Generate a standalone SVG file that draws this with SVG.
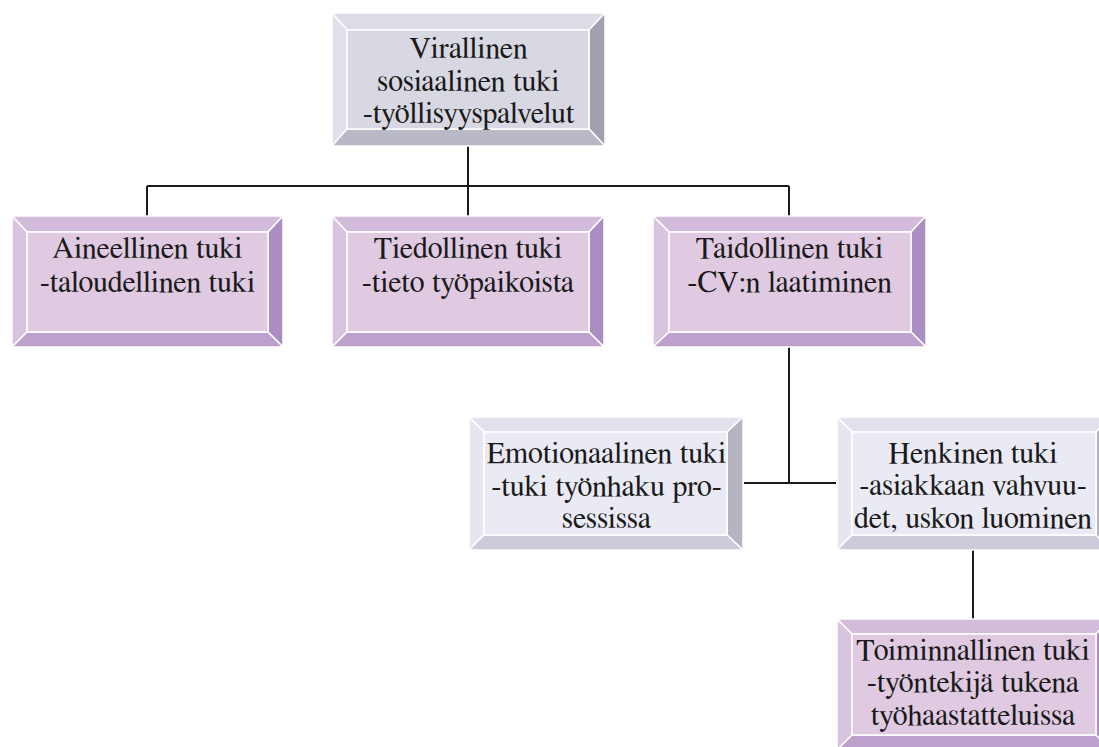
<svg xmlns="http://www.w3.org/2000/svg" width="1099" height="747" viewBox="0 0 1099 747">
<style>
.t{font-family:FreeSerif,"Liberation Serif","Times New Roman",serif;font-size:30px;fill:#1a1a1a;text-anchor:middle}
.b{stroke:#ffffff;stroke-width:1.5;stroke-linejoin:miter}
.g .f{fill:#D8D8E2}.g .tp{fill:#DCDCE6}.g .l{fill:#E0E0EA}.g .r{fill:#A0A0AF}.g .bt{fill:#B8B8C6}
.p .f{fill:#DFCAE2}.p .tp{fill:#D3BBDC}.p .l{fill:#D9C4DF}.p .r{fill:#AA8EC2}.p .bt{fill:#BDA0CB}
.w .f{fill:#EAEAF5}.w .tp{fill:#E2E2EE}.w .l{fill:#E6E6F0}.w .r{fill:#B4B4C3}.w .bt{fill:#CBCBD9}
.c{stroke:#1a1a1a;stroke-width:2;fill:none}
</style>
<rect width="1099" height="747" fill="#ffffff"/>
<g id="connectors">
<path class="c" d="M468 146V186M147 186H789M147 186V216M468 186V216M789 186V216"/>
<path class="c" d="M789 347V483M744 483H836"/>
<path class="c" d="M973 550V619"/>
</g>
<g id="n-virallinen" class="g">
<polygon class="b tp" points="332,13 605,13 589,30 347,30"/>
<polygon class="b l" points="332,13 347,30 347,129 332,146"/>
<polygon class="b r" points="605,13 605,146 589,129 589,30"/>
<polygon class="b bt" points="332,146 347,129 589,129 605,146"/>
<rect class="b f" x="347" y="30" width="242" height="99"/>
<text class="t" x="468.5" y="58">Virallinen</text>
<text class="t" x="468.5" y="91">sosiaalinen tuki</text>
<text class="t" x="468.5" y="123">-työllisyyspalvelut</text>
</g>
<g id="n-aineellinen" class="p">
<polygon class="b tp" points="12,216 283,216 268,232 27,232"/>
<polygon class="b l" points="12,216 27,232 27,332 12,347"/>
<polygon class="b r" points="283,216 283,347 268,332 268,232"/>
<polygon class="b bt" points="12,347 27,332 268,332 283,347"/>
<rect class="b f" x="27" y="232" width="241" height="100"/>
<text class="t" x="147.5" y="258">Aineellinen tuki</text>
<text class="t" x="147.5" y="292">-taloudellinen tuki</text>
</g>
<g id="n-tiedollinen" class="p">
<polygon class="b tp" points="332,216 604,216 589,232 347,232"/>
<polygon class="b l" points="332,216 347,232 347,332 332,347"/>
<polygon class="b r" points="604,216 604,347 589,332 589,232"/>
<polygon class="b bt" points="332,347 347,332 589,332 604,347"/>
<rect class="b f" x="347" y="232" width="242" height="100"/>
<text class="t" x="468" y="258">Tiedollinen tuki</text>
<text class="t" x="468" y="292">-tieto työpaikoista</text>
</g>
<g id="n-taidollinen" class="p">
<polygon class="b tp" points="653,216 926,216 911,232 669,232"/>
<polygon class="b l" points="653,216 669,232 669,332 653,347"/>
<polygon class="b r" points="926,216 926,347 911,332 911,232"/>
<polygon class="b bt" points="653,347 669,332 911,332 926,347"/>
<rect class="b f" x="669" y="232" width="242" height="100"/>
<text class="t" x="789.5" y="258">Taidollinen tuki</text>
<text class="t" x="789.5" y="292">-CV:n laatiminen</text>
</g>
<g id="n-emotionaalinen" class="w">
<polygon class="b tp" points="469,417 743,417 727,432 484,432"/>
<polygon class="b l" points="469,417 484,432 484,535 469,550"/>
<polygon class="b r" points="743,417 743,550 727,535 727,432"/>
<polygon class="b bt" points="469,550 484,535 727,535 743,550"/>
<rect class="b f" x="484" y="432" width="243" height="103"/>
<text class="t" x="606.5" y="463">Emotionaalinen tuki</text>
<text class="t" x="606.5" y="496">-tuki työnhaku pro-</text>
<text class="t" x="606.5" y="528">sessissa</text>
</g>
<g id="n-henkinen" class="w">
<polygon class="b tp" points="837,417 1110,417 1096,432 852,432"/>
<polygon class="b l" points="837,417 852,432 852,535 837,550"/>
<polygon class="b r" points="1110,417 1110,550 1096,535 1096,432"/>
<polygon class="b bt" points="837,550 852,535 1096,535 1110,550"/>
<rect class="b f" x="852" y="432" width="244" height="103"/>
<text class="t" x="973" y="463">Henkinen tuki</text>
<text class="t" x="973" y="495">-asiakkaan vahvuu-</text>
<text class="t" x="973" y="528">det, uskon luominen</text>
</g>
<g id="n-toiminnallinen" class="p">
<polygon class="b tp" points="837,619 1110,619 1096,634 852,634"/>
<polygon class="b l" points="837,619 852,634 852,735 837,750"/>
<polygon class="b r" points="1110,619 1110,750 1096,735 1096,634"/>
<polygon class="b bt" points="837,750 852,735 1096,735 1110,750"/>
<rect class="b f" x="852" y="634" width="244" height="101"/>
<text class="t" x="973" y="660">Toiminnallinen tuki</text>
<text class="t" x="973" y="692">-työntekijä tukena</text>
<text class="t" x="973" y="725">työhaastatteluissa</text>
</g>
</svg>
